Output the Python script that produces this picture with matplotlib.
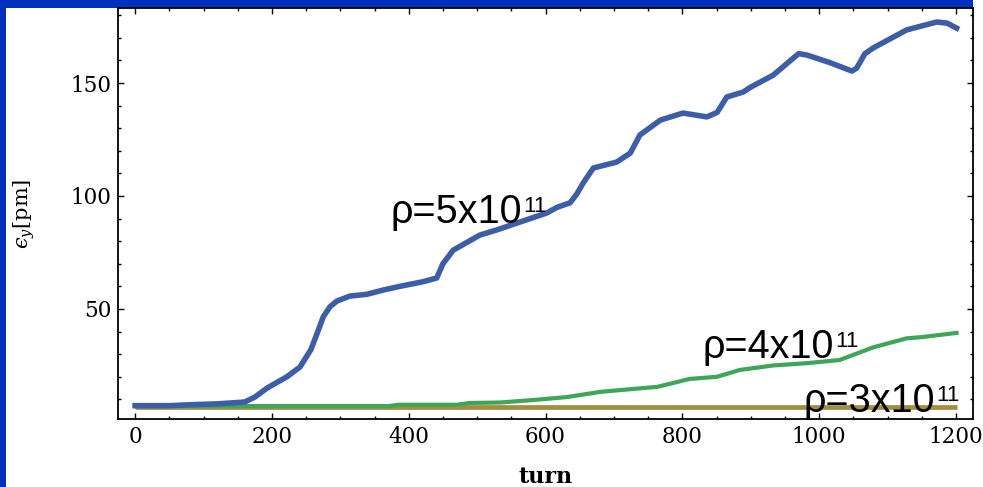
import matplotlib
matplotlib.use("Agg")
import matplotlib.pyplot as plt
from matplotlib.patches import Rectangle
from matplotlib.ticker import MultipleLocator

# emittance growth
turn_5 = [0, 50, 80, 120, 160, 175, 193, 222, 241, 257, 268, 275, 285, 295, 314, 339, 363,
          387, 420, 441, 450, 465, 504, 529, 563, 602, 617, 636, 646, 655, 670, 704, 724,
          738, 768, 801, 836, 851, 865, 889, 899, 933, 970, 982, 1016, 1048, 1055, 1067,
          1079, 1128, 1172, 1187, 1201]
eps_5 = [7.2, 7.2, 7.6, 8.0, 8.8, 11, 15, 20, 24.3, 32, 40.7, 46.5, 51, 53.5, 55.7, 56.5, 58.4,
         60, 62, 63.7, 70, 76, 82.7, 85, 88.5, 92.5, 95, 97, 101, 105.7, 112.4, 115, 119,
         127, 133.6, 136.7, 135, 137, 143.8, 146, 148, 153.5, 163, 162.4, 159, 155.3, 156.6, 163,
         165.5, 173.5, 177, 176.5, 174.3]

turn_4 = [0, 370, 385, 470, 490, 534, 582, 631, 680, 728, 763, 790, 810, 851, 884, 933, 982,
          1030, 1079, 1128, 1152, 1201]
eps_4 = [7.0, 7.0, 7.6, 7.6, 8.4, 8.6, 9.7, 11, 13.3, 14.6, 15.5, 17.5, 19, 20, 23, 25, 26,
         27.4, 33, 37, 37.6, 39.4]

turn_3 = [0, 1201]
eps_3 = [6.8, 6.8]

labels = ["\u03c1=5x10", "\u03c1=4x10", "\u03c1=3x10"]
label_pos = [(373, 88), (829, 28.3), (977, 4.4)]

plt.rcParams['font.family'] = ['DejaVu Serif']
plt.rcParams['mathtext.fontset'] = 'dejavuserif'

fig = plt.figure(figsize=(9.83, 4.87), dpi=100)
fig.patch.set_facecolor('#0030be')
fig.patches.append(Rectangle((6 / 983, 0), 1, 479 / 487, transform=fig.transFigure,
                             facecolor='white', edgecolor='none', zorder=-5))
fig.patches.append(Rectangle((973 / 983, 0), 1, 1, transform=fig.transFigure,
                             facecolor='white', edgecolor='none', zorder=-5))

ax = fig.add_axes([118 / 983, 68 / 487, 855 / 983, 411 / 487])
ax.set_facecolor('white')

ax.plot(turn_3, eps_3, color='#a48d3e', lw=3.4, solid_capstyle='butt')
ax.plot(turn_4, eps_4, color='#3da657', lw=3.0)
ax.plot(turn_5, eps_5, color='#3c5ea8', lw=4.0)

ax.set_xlim(-25, 1225)
ax.set_ylim(1.3, 183.2)
ax.set_xticks([0, 200, 400, 600, 800, 1000, 1200])
ax.set_yticks([50, 100, 150])
ax.xaxis.set_minor_locator(MultipleLocator(50))
ax.yaxis.set_minor_locator(MultipleLocator(10))
ax.tick_params(which='both', direction='in', top=True, right=True, width=1.0,
               labelsize=15.5, pad=5)
ax.tick_params(which='major', length=4.5)
ax.tick_params(which='minor', length=2.2)
for s in ax.spines.values():
    s.set_linewidth(1.3)

ax.set_xlabel('turn', fontsize=16, fontweight='bold', labelpad=13)
ax.set_ylabel('$\u03f5_{\\mathit{y}}$[pm]', fontsize=15, labelpad=24)

for lab, (x, y) in zip(labels, label_pos):
    t = ax.text(x, y, lab, fontsize=28.5, family='Liberation Sans', ha='left',
                va='baseline', clip_on=False, zorder=5)
    ax.annotate('11', xy=(1, 1), xycoords=t, xytext=(1, -2), textcoords='offset points',
                fontsize=16, family='Liberation Sans', ha='left', va='top',
                annotation_clip=False, zorder=5)

fig.savefig('out.png', dpi=100, facecolor=fig.get_facecolor())
